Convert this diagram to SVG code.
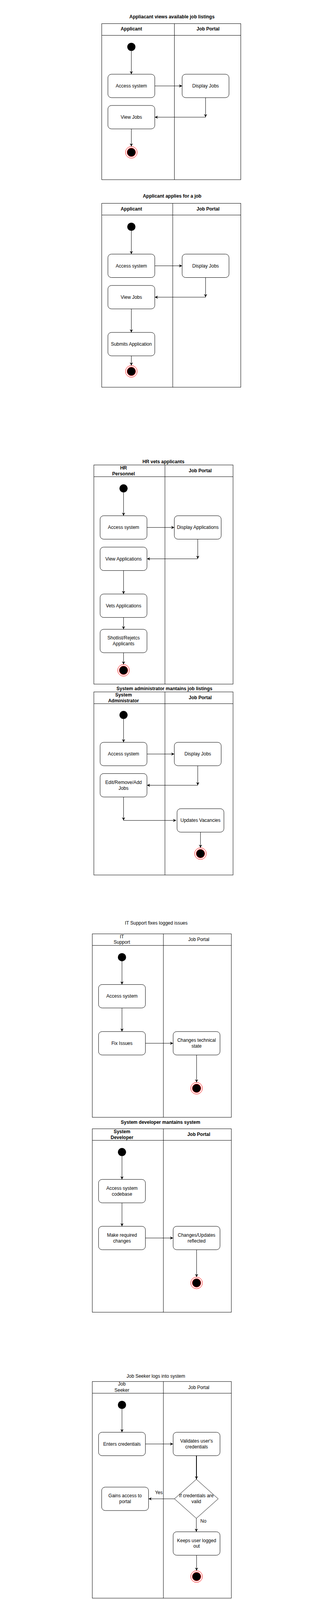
<svg xmlns="http://www.w3.org/2000/svg" width="827" height="4676" viewBox="0 0 827 4676">
<style>
text{font-family:"Liberation Sans",Arial,Helvetica,sans-serif;font-size:12px;fill:#000;text-anchor:middle}
.t{font-weight:bold}
.h{font-weight:bold}
.n{font-weight:normal}
.pool{fill:none;stroke:#000;stroke-width:1}
.act{fill:#fff;stroke:#000;stroke-width:1}
.dec{fill:#fff;stroke:#000;stroke-width:1}
.start{fill:#000;stroke:none}
.endo{fill:#fff;stroke:#f00;stroke-width:1}
.endi{fill:#000;stroke:#f00;stroke-width:1}
.e{fill:none;stroke:#000;stroke-width:1;marker-end:url(#arr)}
.e2{fill:none;stroke:#000;stroke-width:2;marker-end:url(#arr)}
</style>
<defs>
<marker id="arr" viewBox="0 0 10 10" refX="10" refY="5" markerWidth="8" markerHeight="8" markerUnits="userSpaceOnUse" orient="auto">
<path d="M0,0 L10,5 L0,10 L3,5 z" fill="#000"/>
</marker>
</defs>
<rect x="0" y="0" width="827" height="4676" fill="#fff"/>

<!-- Diagram 1 -->
<g id="d1">
<text class="t" x="440.3" y="46.7">Appliacant views available job listings</text>
<g id="d1-pool">
<rect class="pool" x="260.5" y="60.5" width="356" height="399.5"/>
<line class="pool" x1="260.5" y1="90.5" x2="616.5" y2="90.5"/>
<line class="pool" x1="446.5" y1="60.5" x2="446.5" y2="460"/>
<text class="h" x="336.3" y="78.3">Applicant</text>
<text class="h" x="532.7" y="78.3">Job Portal</text>
</g>
<g id="d1-start"><circle class="start" cx="336.3" cy="120" r="10.5"/></g>
<g id="d1-access"><rect class="act" x="276.3" y="190" width="120" height="60" rx="9"/><text x="336.3" y="224">Access system</text></g>
<g id="d1-display"><rect class="act" x="466.3" y="190" width="120" height="60" rx="9"/><text x="526.3" y="224">Display Jobs</text></g>
<g id="d1-view"><rect class="act" x="276.3" y="270" width="120" height="60" rx="9"/><text x="336.3" y="304">View Jobs</text></g>
<g id="d1-end"><circle class="endo" cx="336.3" cy="390" r="15"/><circle class="endi" cx="336.3" cy="390" r="11"/></g>
<g id="d1-connectors">
<path class="e" d="M336.3,130.5 V190"/>
<path class="e" d="M396.3,220 H466.3"/>
<path class="e" d="M526.3,250 V300"/>
<path class="e" d="M526.3,300 H396.3"/>
<path class="e" d="M336.3,330 V375"/>
</g>
</g>

<!-- Diagram 2 -->
<g id="d2">
<text class="t" x="440.7" y="505.5">Applicant applies for a job</text>
<g id="d2-pool">
<rect class="pool" x="260.5" y="520.5" width="356" height="470.8"/>
<line class="pool" x1="260.5" y1="550.5" x2="616.5" y2="550.5"/>
<line class="pool" x1="442.3" y1="520.5" x2="442.3" y2="991.3"/>
<text class="h" x="336.3" y="538.7">Applicant</text>
<text class="h" x="532.7" y="538.7">Job Portal</text>
</g>
<g id="d2-start"><circle class="start" cx="336.3" cy="580.5" r="10.5"/></g>
<g id="d2-access"><rect class="act" x="276.3" y="650.5" width="120" height="60" rx="9"/><text x="336.3" y="684.5">Access system</text></g>
<g id="d2-display"><rect class="act" x="466.3" y="650.5" width="120" height="60" rx="9"/><text x="526.3" y="684.5">Display Jobs</text></g>
<g id="d2-view"><rect class="act" x="276.3" y="730.8" width="120" height="60" rx="9"/><text x="336.3" y="764.8">View Jobs</text></g>
<g id="d2-submit"><rect class="act" x="276.3" y="851" width="120" height="60" rx="9"/><text x="336.3" y="885">Submits Application</text></g>
<g id="d2-end"><circle class="endo" cx="336.3" cy="950.8" r="15"/><circle class="endi" cx="336.3" cy="950.8" r="11"/></g>
<g id="d2-connectors">
<path class="e" d="M336.3,591 V650.5"/>
<path class="e" d="M396.3,680.5 H466.3"/>
<path class="e" d="M526.3,710.5 V760.8"/>
<path class="e" d="M526.3,760.8 H396.3"/>
<path class="e" d="M336.3,790.8 V851"/>
<path class="e" d="M336.3,911 V935.8"/>
</g>
</g>

<!-- Diagram 3 -->
<g id="d3">
<text class="t" x="418.5" y="1186">HR vets applicants</text>
<g id="d3-pool">
<rect class="pool" x="240.3" y="1190.3" width="356.4" height="561"/>
<line class="pool" x1="240.3" y1="1220.3" x2="596.7" y2="1220.3"/>
<line class="pool" x1="422.3" y1="1190.3" x2="422.3" y2="1751.3"/>
<text class="h" x="316.3" y="1202">HR</text>
<text class="h" x="316.3" y="1216.7">Personnel</text>
<text class="h" x="512.7" y="1209">Job Portal</text>
</g>
<g id="d3-start"><circle class="start" cx="316.3" cy="1250.3" r="10.5"/></g>
<g id="d3-access"><rect class="act" x="256.3" y="1320.3" width="120" height="60" rx="9"/><text x="316.3" y="1354.3">Access system</text></g>
<g id="d3-display"><rect class="act" x="446.3" y="1320.3" width="120" height="60" rx="9"/><text x="506.3" y="1354.3">Display Applications</text></g>
<g id="d3-view"><rect class="act" x="256.3" y="1400.6" width="120" height="60" rx="9"/><text x="316.3" y="1434.6">View Applications</text></g>
<g id="d3-vets"><rect class="act" x="256.3" y="1520.7" width="120" height="60" rx="9"/><text x="316.3" y="1554.7">Vets Applications</text></g>
<g id="d3-short"><rect class="act" x="256.3" y="1611" width="120" height="60" rx="9"/><text x="316.3" y="1637.4">Shotlist/Rejetcs</text><text x="316.3" y="1652.3">Applicants</text></g>
<g id="d3-end"><circle class="endo" cx="316.3" cy="1716" r="15"/><circle class="endi" cx="316.3" cy="1716" r="11"/></g>
<g id="d3-connectors">
<path class="e" d="M316.3,1260.8 V1320.3"/>
<path class="e" d="M376.3,1350.3 H446.3"/>
<path class="e" d="M506.3,1380.3 V1430.6"/>
<path class="e" d="M506.3,1430.6 H376.3"/>
<path class="e" d="M316.3,1460.6 V1520.7"/>
<path class="e" d="M316.3,1580.7 V1611"/>
<path class="e" d="M316.3,1671 V1701"/>
</g>
</g>

<!-- Diagram 4 -->
<g id="d4">
<text class="t" x="421" y="1767.2">System administrator mantains job listings</text>
<g id="d4-pool">
<rect class="pool" x="240.3" y="1771.3" width="356.4" height="468.7"/>
<line class="pool" x1="240.3" y1="1801.4" x2="596.7" y2="1801.4"/>
<line class="pool" x1="422.3" y1="1771.3" x2="422.3" y2="2240"/>
<text class="h" x="316.3" y="1782.7">System</text>
<text class="h" x="316.3" y="1797.6">Administrator</text>
<text class="h" x="512.7" y="1789.5">Job Portal</text>
</g>
<g id="d4-start"><circle class="start" cx="316.3" cy="1830.3" r="10.5"/></g>
<g id="d4-access"><rect class="act" x="256.3" y="1900.3" width="120" height="60" rx="9"/><text x="316.3" y="1934.3">Access system</text></g>
<g id="d4-display"><rect class="act" x="446.3" y="1900.3" width="120" height="60" rx="9"/><text x="506.3" y="1934.3">Display Jobs</text></g>
<g id="d4-edit"><rect class="act" x="256.3" y="1980.3" width="120" height="60" rx="9"/><text x="316.3" y="2006.7">Edit/Remove/Add</text><text x="316.3" y="2021.7">Jobs</text></g>
<g id="d4-update"><rect class="act" x="453.3" y="2070.3" width="120" height="60" rx="9"/><text x="513.3" y="2104.3">Updates Vacancies</text></g>
<g id="d4-end"><circle class="endo" cx="513.3" cy="2185.3" r="15"/><circle class="endi" cx="513.3" cy="2185.3" r="11"/></g>
<g id="d4-connectors">
<path class="e" d="M316.3,1840.8 V1900.3"/>
<path class="e" d="M376.3,1930.3 H446.3"/>
<path class="e" d="M506.3,1960.3 V2010.3"/>
<path class="e" d="M506.3,2010.3 H376.3"/>
<path class="e" d="M316.3,2040.3 V2100.3"/>
<path class="e" d="M316.3,2100.3 H451"/>
<path class="e" d="M513.3,2130.3 V2170.3"/>
</g>
</g>

<!-- Diagram 5 -->
<g id="d5">
<text class="n" x="400" y="2366.7">IT Support fixes logged issues</text>
<g id="d5-pool">
<rect class="pool" x="236.3" y="2390.7" width="356" height="469.6"/>
<line class="pool" x1="236.3" y1="2420.3" x2="592.3" y2="2420.3"/>
<line class="pool" x1="418.3" y1="2390.7" x2="418.3" y2="2860.3"/>
<text class="n" x="312" y="2401.7">IT</text>
<text class="n" x="312" y="2416.3">Support</text>
<text class="n" x="509" y="2409">Job Portal</text>
</g>
<g id="d5-start"><circle class="start" cx="312.3" cy="2450.4" r="10.5"/></g>
<g id="d5-access"><rect class="act" x="252.3" y="2520.4" width="120" height="60" rx="9"/><text x="312.3" y="2554.4">Access system</text></g>
<g id="d5-fix"><rect class="act" x="252.3" y="2640.8" width="120" height="60" rx="9"/><text x="312.3" y="2674.8">Fix Issues</text></g>
<g id="d5-changes"><rect class="act" x="443.3" y="2640.8" width="120" height="60" rx="9"/><text x="503.3" y="2667.2">Changes technical</text><text x="503.3" y="2682">state</text></g>
<g id="d5-end"><circle class="endo" cx="503.3" cy="2786" r="15"/><circle class="endi" cx="503.3" cy="2786" r="11"/></g>
<g id="d5-connectors">
<path class="e" d="M312.3,2460.9 V2520.4"/>
<path class="e" d="M312.3,2580.4 V2640.8"/>
<path class="e" d="M372.3,2670.8 H443.3"/>
<path class="e" d="M503.3,2700.8 V2771"/>
</g>
</g>

<!-- Diagram 6 -->
<g id="d6">
<text class="t" x="411" y="2877">System developer mantains system</text>
<g id="d6-pool">
<rect class="pool" x="236.3" y="2889.7" width="356" height="469.6"/>
<line class="pool" x1="236.3" y1="2919.3" x2="592.3" y2="2919.3"/>
<line class="pool" x1="418.3" y1="2889.7" x2="418.3" y2="3359.3"/>
<text class="h" x="312.3" y="2900.7">System</text>
<text class="h" x="312.3" y="2915.7">Developer</text>
<text class="h" x="509" y="2908">Job Portal</text>
</g>
<g id="d6-start"><circle class="start" cx="312.3" cy="2949.3" r="10.5"/></g>
<g id="d6-access"><rect class="act" x="252.3" y="3019.3" width="120" height="60" rx="9"/><text x="312.3" y="3045.7">Access system</text><text x="312.3" y="3060.7">codebase</text></g>
<g id="d6-make"><rect class="act" x="252.3" y="3139.3" width="120" height="60" rx="9"/><text x="312.3" y="3165.7">Make required</text><text x="312.3" y="3180.7">changes</text></g>
<g id="d6-reflect"><rect class="act" x="443.3" y="3139.3" width="120" height="60" rx="9"/><text x="503.3" y="3165.7">Changes/Updates</text><text x="503.3" y="3180.7">reflected</text></g>
<g id="d6-end"><circle class="endo" cx="503.3" cy="3284.3" r="15"/><circle class="endi" cx="503.3" cy="3284.3" r="11"/></g>
<g id="d6-connectors">
<path class="e" d="M312.3,2959.8 V3019.3"/>
<path class="e" d="M312.3,3079.3 V3139.3"/>
<path class="e" d="M372.3,3169.3 H443.3"/>
<path class="e" d="M503.3,3199.3 V3269.3"/>
</g>
</g>

<!-- Diagram 7 -->
<g id="d7">
<text class="n" x="399" y="3527.3">Job Seeker logs into system</text>
<g id="d7-pool">
<rect class="pool" x="236.3" y="3536.7" width="356" height="554.6"/>
<line class="pool" x1="236.3" y1="3566.7" x2="592.3" y2="3566.7"/>
<line class="pool" x1="418.3" y1="3536.7" x2="418.3" y2="4091.3"/>
<text class="n" x="312" y="3547.3">Job</text>
<text class="n" x="312" y="3563">Seeker</text>
<text class="n" x="509" y="3555.7">Job Portal</text>
</g>
<g id="d7-start"><circle class="start" cx="312.3" cy="3596.5" r="10.5"/></g>
<g id="d7-enter"><rect class="act" x="252.3" y="3666.6" width="120" height="60" rx="9"/><text x="312.3" y="3700.6">Enters credentials</text></g>
<g id="d7-validate"><rect class="act" x="443.3" y="3666.6" width="120" height="60" rx="9"/><text x="503.3" y="3692.8">Validates user's</text><text x="503.3" y="3707.8">credentials</text></g>
<g id="d7-decision"><polygon class="dec" points="502.7,3787 558.7,3837 502.7,3887 446.7,3837"/><text x="502.7" y="3833">If credentials are</text><text x="502.7" y="3848">valid</text></g>
<g id="d7-gains"><rect class="act" x="260.3" y="3807" width="120" height="60" rx="9"/><text x="320.3" y="3833">Gains access to</text><text x="320.3" y="3848">portal</text></g>
<g id="d7-keeps"><rect class="act" x="443.3" y="3921.4" width="120" height="60" rx="9"/><text x="503.3" y="3947.6">Keeps user logged</text><text x="503.3" y="3962.2">out</text></g>
<g id="d7-end"><circle class="endo" cx="503.3" cy="4036" r="15"/><circle class="endi" cx="503.3" cy="4036" r="11"/></g>
<g id="d7-connectors">
<path class="e" d="M312.3,3607 V3666.6"/>
<path class="e" d="M372.3,3696.6 H443.3"/>
<path class="e2" d="M503,3726.6 V3787"/>
<path class="e" d="M446.7,3837 H380.3"/>
<text x="406.7" y="3825.2">Yes</text>
<path class="e" d="M502.7,3887 V3921.4"/>
<text x="520.7" y="3897.5">No</text>
<path class="e" d="M503.3,3981.4 V4021"/>
</g>
</g>

<!-- Diagram 8 -->
<g id="d8">
<text class="t" x="427.7" y="4111.4">Compliance verifies application process</text>
<g id="d8-pool">
<rect class="pool" x="236.3" y="4116.3" width="356" height="551.7"/>
<line class="pool" x1="236.3" y1="4146.3" x2="592.3" y2="4146.3"/>
<line class="pool" x1="418.3" y1="4116.3" x2="418.3" y2="4668"/>
<text class="h" x="310" y="4134.7">Compliance</text>
<text class="h" x="509" y="4134.7">Job Portal</text>
</g>
<g id="d8-start"><circle class="start" cx="312.3" cy="4176.3" r="10.5"/></g>
<g id="d8-access"><rect class="act" x="252.3" y="4230.7" width="120" height="60" rx="9"/><text x="312.3" y="4263.7">Accesses system</text></g>
<g id="d8-request"><rect class="act" x="250.3" y="4340.3" width="120" height="60" rx="9"/><text x="310.3" y="4366.7">Requests application</text><text x="310.3" y="4381.7">process from system</text></g>
<g id="d8-provide"><rect class="act" x="440.3" y="4330.3" width="120" height="60" rx="9"/><text x="500.3" y="4356.7">Provides application</text><text x="500.3" y="4371.7">process</text></g>
<g id="d8-validate"><rect class="act" x="250.3" y="4410.3" width="120" height="60" rx="9"/><text x="310.3" y="4429.3">Validates whether</text><text x="310.3" y="4444">processes are</text><text x="310.3" y="4458.7">compliant</text></g>
<g id="d8-decision"><polygon class="dec" points="312.5,4510 368.5,4560 312.5,4610 256.5,4560"/><text x="312.5" y="4556.7">If credentials are</text><text x="312.5" y="4571.3">valid</text></g>
<g id="d8-store"><rect class="act" x="440.3" y="4520.3" width="120" height="60" rx="9"/><text x="500.3" y="4546.7">Stores records for</text><text x="500.3" y="4561.7">audit purposes</text></g>
<g id="d8-end"><circle class="endo" cx="500.3" cy="4635" r="15"/><circle class="endi" cx="500.3" cy="4635" r="11"/></g>
<g id="d8-connectors">
<path class="e" d="M312.3,4186.8 V4230.7"/>
<path class="e" d="M312.3,4290.7 V4340.3"/>
<path class="e" d="M370.3,4360 H440.3"/>
<path class="e" d="M500.3,4390.3 V4440"/>
<path class="e" d="M500.3,4440 H370.3"/>
<path class="e" d="M312.3,4470.3 V4510"/>
<path class="e" d="M368.5,4560 H437"/>
<text x="388.3" y="4548.3">Yes</text>
<path class="e" d="M312.5,4610 L439.3,4581"/>
<text x="380.3" y="4588.3">No</text>
<path class="e" d="M500.3,4580.3 V4620"/>
</g>
</g>
</svg>
